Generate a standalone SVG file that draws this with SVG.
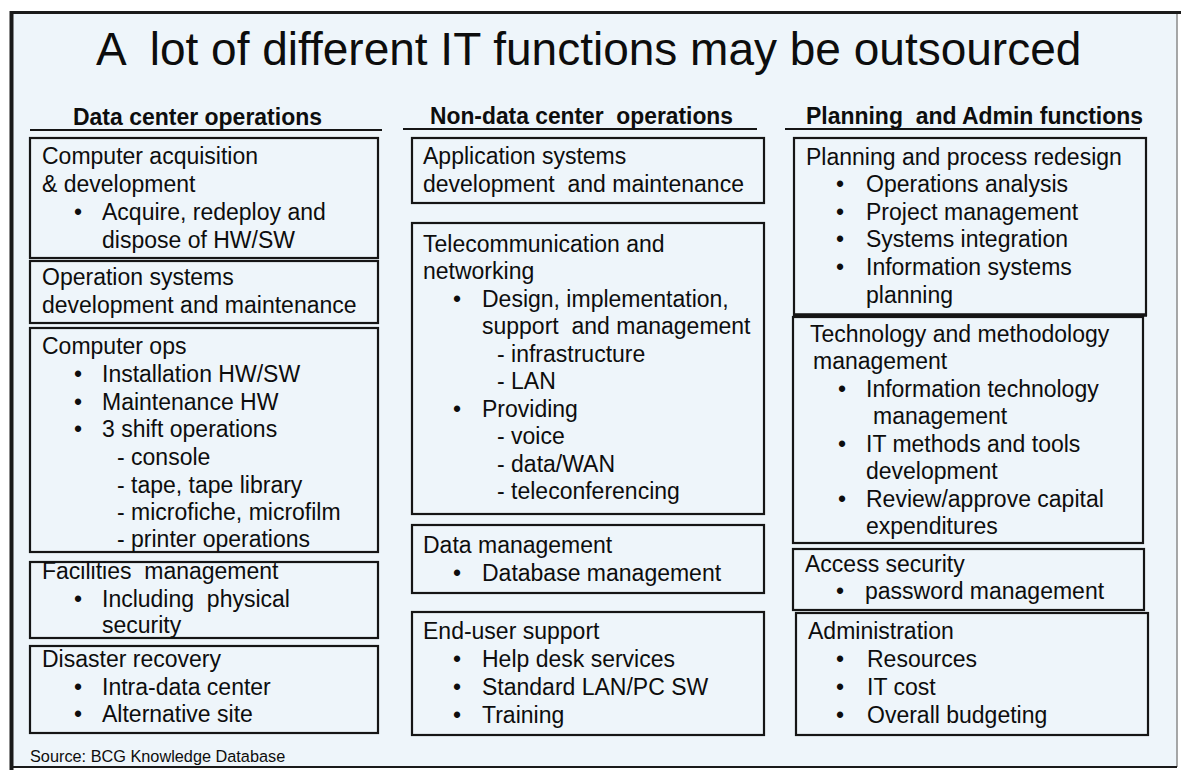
<svg xmlns="http://www.w3.org/2000/svg" width="1181" height="770" viewBox="0 0 1181 770" xml:space="preserve">
  <style>
    text { font-family: "Liberation Sans", Arial, sans-serif; fill: #0d0d0d; white-space: pre; }
    .title { font-size: 46px; }
    .hdr { font-size: 23px; font-weight: bold; }
    .t { font-size: 23px; }
    .src { font-size: 16.3px; }
    .box { fill: none; stroke: #151515; stroke-width: 2.2; }
    .rule { stroke: #151515; stroke-width: 2.2; }
  </style>

  <!-- page and frame -->
  <rect x="0" y="0" width="1181" height="770" fill="#ffffff"/>
  <rect x="11" y="12" width="1166" height="755" fill="#eef5fa"/>
  <line x1="1177" y1="12" x2="1177" y2="767" stroke="#8a8a8a" stroke-width="1.5"/>
  <line x1="10" y1="12.5" x2="1181" y2="12.5" stroke="#1a1a1a" stroke-width="3"/>
  <line x1="11.5" y1="11" x2="11.5" y2="770" stroke="#1a1a1a" stroke-width="4"/>
  <line x1="10" y1="767" x2="1177" y2="767" stroke="#1a1a1a" stroke-width="2"/>

  <text class="title" x="96" y="65">A  lot of different IT functions may be outsourced</text>

  <!-- column headings -->
  <g id="heading-data-center">
    <text class="hdr" x="73" y="125" textLength="249" lengthAdjust="spacingAndGlyphs">Data center operations</text>
    <line class="rule" x1="30" y1="130" x2="382" y2="130"/>
  </g>
  <g id="heading-non-data-center">
    <text class="hdr" x="430" y="124" textLength="303" lengthAdjust="spacingAndGlyphs">Non-data center  operations</text>
    <line class="rule" x1="403" y1="129" x2="757" y2="129"/>
  </g>
  <g id="heading-planning-admin">
    <text class="hdr" x="806" y="124" textLength="337" lengthAdjust="spacingAndGlyphs">Planning  and Admin functions</text>
    <line class="rule" x1="785" y1="129" x2="1140" y2="129"/>
  </g>

  <!-- left column -->
  <g id="computer-acquisition">
    <rect class="box" x="30" y="138" width="348" height="120"/>
    <text class="t" x="42" y="164">Computer acquisition</text>
    <text class="t" x="42" y="192">&amp; development</text>
    <text class="t" x="74" y="220">•</text>
    <text class="t" x="102" y="220">Acquire, redeploy and</text>
    <text class="t" x="102" y="248">dispose of HW/SW</text>
  </g>
  <g id="operation-systems">
    <rect class="box" x="30" y="261" width="348" height="62"/>
    <text class="t" x="42" y="285">Operation systems</text>
    <text class="t" x="42" y="313">development and maintenance</text>
  </g>
  <g id="computer-ops">
    <rect class="box" x="30" y="328" width="348" height="224"/>
    <text class="t" x="42" y="354">Computer ops</text>
    <text class="t" x="74" y="382">•</text>
    <text class="t" x="102" y="382">Installation HW/SW</text>
    <text class="t" x="74" y="410">•</text>
    <text class="t" x="102" y="410">Maintenance HW</text>
    <text class="t" x="74" y="437">•</text>
    <text class="t" x="102" y="437">3 shift operations</text>
    <text class="t" x="117" y="465">- console</text>
    <text class="t" x="117" y="493">- tape, tape library</text>
    <text class="t" x="117" y="520">- microfiche, microfilm</text>
    <text class="t" x="117" y="547">- printer operations</text>
  </g>
  <g id="facilities-management">
    <rect class="box" x="30" y="562" width="348" height="76"/>
    <text class="t" x="42" y="579">Facilities  management</text>
    <text class="t" x="74" y="607">•</text>
    <text class="t" x="102" y="607">Including  physical</text>
    <text class="t" x="102" y="633">security</text>
  </g>
  <g id="disaster-recovery">
    <rect class="box" x="30" y="646" width="348" height="87"/>
    <text class="t" x="42" y="667">Disaster recovery</text>
    <text class="t" x="74" y="695">•</text>
    <text class="t" x="102" y="695">Intra-data center</text>
    <text class="t" x="74" y="722">•</text>
    <text class="t" x="102" y="722">Alternative site</text>
  </g>

  <!-- middle column -->
  <g id="application-systems">
    <rect class="box" x="412" y="138" width="352" height="65"/>
    <text class="t" x="423" y="164">Application systems</text>
    <text class="t" x="423" y="192">development  and maintenance</text>
  </g>
  <g id="telecommunication">
    <rect class="box" x="412" y="223" width="352" height="291"/>
    <text class="t" x="423" y="252">Telecommunication and</text>
    <text class="t" x="423" y="279">networking</text>
    <text class="t" x="453" y="307">•</text>
    <text class="t" x="482" y="307">Design, implementation,</text>
    <text class="t" x="482" y="334">support  and management</text>
    <text class="t" x="497" y="362">- infrastructure</text>
    <text class="t" x="497" y="389">- LAN</text>
    <text class="t" x="453" y="417">•</text>
    <text class="t" x="482" y="417">Providing</text>
    <text class="t" x="497" y="444">- voice</text>
    <text class="t" x="497" y="472">- data/WAN</text>
    <text class="t" x="497" y="499">- teleconferencing</text>
  </g>
  <g id="data-management">
    <rect class="box" x="412" y="525" width="352" height="68"/>
    <text class="t" x="423" y="553">Data management</text>
    <text class="t" x="453" y="581">•</text>
    <text class="t" x="482" y="581">Database management</text>
  </g>
  <g id="end-user-support">
    <rect class="box" x="412" y="612" width="352" height="123"/>
    <text class="t" x="423" y="639">End-user support</text>
    <text class="t" x="453" y="667">•</text>
    <text class="t" x="482" y="667">Help desk services</text>
    <text class="t" x="453" y="695">•</text>
    <text class="t" x="482" y="695">Standard LAN/PC SW</text>
    <text class="t" x="453" y="723">•</text>
    <text class="t" x="482" y="723">Training</text>
  </g>

  <!-- right column -->
  <g id="planning-process">
    <rect class="box" x="794" y="138" width="352" height="177"/>
    <line x1="793" y1="315" x2="1147" y2="315" stroke="#151515" stroke-width="3.5"/>
    <text class="t" x="806" y="165">Planning and process redesign</text>
    <text class="t" x="836" y="192">•</text>
    <text class="t" x="866" y="192">Operations analysis</text>
    <text class="t" x="836" y="220">•</text>
    <text class="t" x="866" y="220">Project management</text>
    <text class="t" x="836" y="247">•</text>
    <text class="t" x="866" y="247">Systems integration</text>
    <text class="t" x="836" y="275">•</text>
    <text class="t" x="866" y="275">Information systems</text>
    <text class="t" x="866" y="303">planning</text>
  </g>
  <g id="technology-methodology">
    <rect class="box" x="793" y="317" width="350" height="226"/>
    <text class="t" x="810" y="342">Technology and methodology</text>
    <text class="t" x="813" y="369">management</text>
    <text class="t" x="838" y="397">•</text>
    <text class="t" x="866" y="397">Information technology</text>
    <text class="t" x="873" y="424">management</text>
    <text class="t" x="838" y="452">•</text>
    <text class="t" x="866" y="452">IT methods and tools</text>
    <text class="t" x="866" y="479">development</text>
    <text class="t" x="838" y="507">•</text>
    <text class="t" x="866" y="507">Review/approve capital</text>
    <text class="t" x="866" y="534">expenditures</text>
  </g>
  <g id="access-security">
    <rect class="box" x="793" y="549" width="351" height="61"/>
    <text class="t" x="805" y="572">Access security</text>
    <text class="t" x="836" y="599">•</text>
    <text class="t" x="865" y="599">password management</text>
  </g>
  <g id="administration">
    <rect class="box" x="796" y="613" width="352" height="122"/>
    <text class="t" x="808" y="639">Administration</text>
    <text class="t" x="836" y="667">•</text>
    <text class="t" x="867" y="667">Resources</text>
    <text class="t" x="836" y="695">•</text>
    <text class="t" x="867" y="695">IT cost</text>
    <text class="t" x="836" y="723">•</text>
    <text class="t" x="867" y="723">Overall budgeting</text>
  </g>

  <text class="src" x="30" y="762">Source: BCG Knowledge Database</text>
</svg>
